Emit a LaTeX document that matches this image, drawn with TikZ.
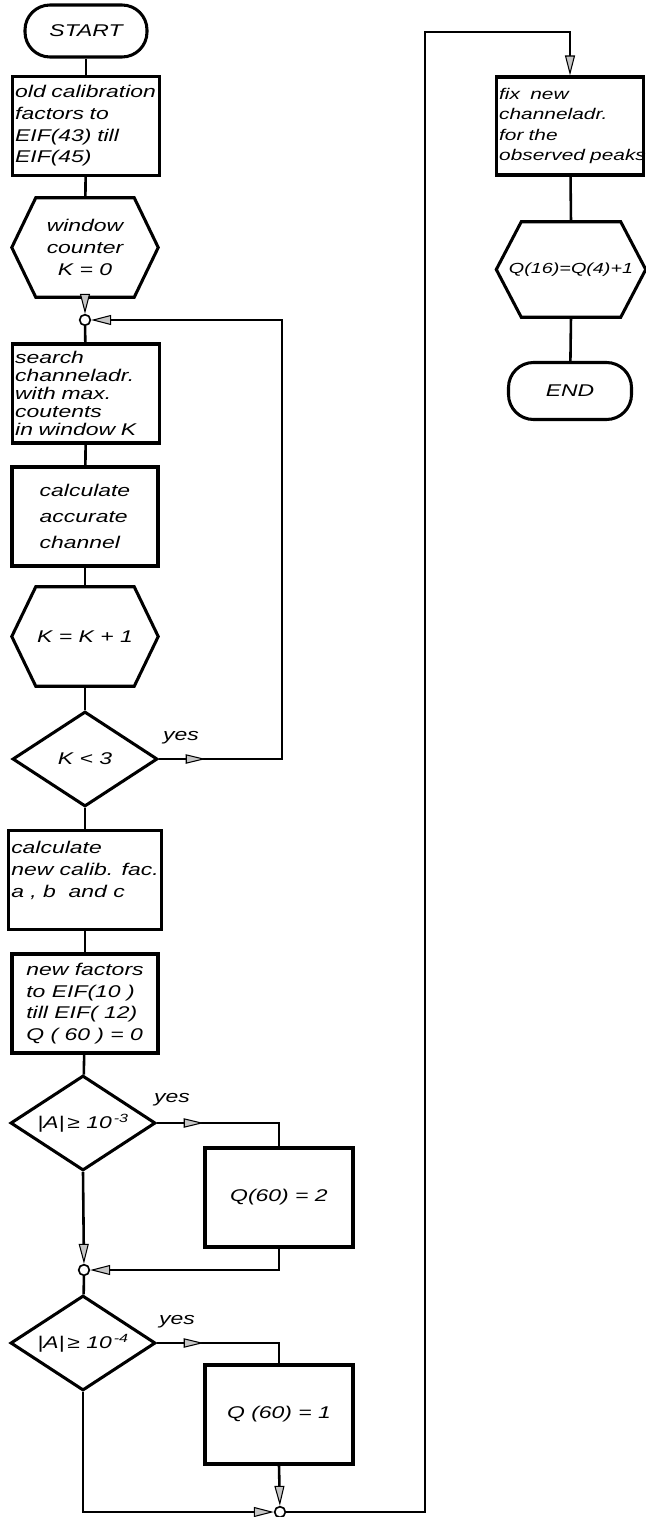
\documentclass[tikz,border=0pt]{standalone}
\usepackage{fontspec}
\setmainfont{Liberation Sans}[FakeStretch=1.35]
\usetikzlibrary{shapes.geometric, arrows.meta, positioning, calc, decorations.markings}

\newcommand{\chartfont}{\fontsize{14.5}{18.5}\selectfont\itshape}
\newcommand{\hexframe}[2]{%
  \draw[line width=2.6pt, line join=miter] ([xshift=#2]#1.north west) -- ([xshift=-#2]#1.north east) -- (#1.east)
    -- ([xshift=-#2]#1.south east) -- ([xshift=#2]#1.south west) -- (#1.west) -- cycle;}

\tikzset{
  box/.style={draw, line width=2.6pt, rectangle, minimum width=4.38cm, minimum height=2.97cm,
    font=\chartfont, align=left, inner sep=2pt},
  term/.style={draw, line width=2.6pt, rectangle, rounded corners=0.75cm, minimum width=3.66cm,
    minimum height=1.56cm, font=\chartfont},
  prep/.style={rectangle, minimum width=4.38cm, minimum height=2.97cm, font=\chartfont, align=center, inner sep=2pt},
  test/.style={draw, line width=2.6pt, diamond, aspect=1.5, minimum width=4.35cm, minimum height=2.85cm,
    inner sep=0pt, font=\chartfont},
  joint/.style={draw, circle, fill=white, line width=1.4pt, minimum size=0.32cm, inner sep=0pt},
  flow/.style={line width=2.2pt},
  tip/.style={-{Triangle[length=0.6cm, width=0.3cm, fill=gray!45, line width=0.9pt]}},
  midtip/.style={postaction={decorate}, decoration={markings,
    mark=at position 1.4cm with {\arrow{Triangle[length=0.6cm, width=0.28cm, fill=gray!45, line width=0.9pt]}}}},
  yeslbl/.style={font=\chartfont}
}

\begin{document}
\begin{tikzpicture}[x=0.03cm, y=-0.03cm]
\useasboundingbox (0,0) rectangle (645,1517);

% left column
\node[term] (start) at (86,31) {START};
\node[box, text width=4.25cm] (oldfac) at (86,126) {\mbox{old calibration}\\factors to\\EIF(43) till\\EIF(45)};
\node[prep] (kzero) at (85,247.5) {window\\counter\\K = 0};
\hexframe{kzero}{0.72cm}
\node[joint] (jloop) at (85,320) {};
\node[box, text width=4.25cm, font=\fontsize{14.5}{15.5}\selectfont\itshape] (search) at (86,393.5)
  {search\\channeladr.\\with max.\\coutents\\in window K};
\node[box, font=\fontsize{14.5}{22}\selectfont\itshape] (accur) at (85,516.5) {calculate\\accurate\\channel};
\node[prep] (kinc) at (85,636.5) {K = K + 1};
\hexframe{kinc}{0.72cm}
\node[test] (kless) at (85,759) {K < 3};
\node[box] (newcal) at (85,880) {calculate\\new calib. fac.\\a , b \ and c\\ \mbox{}};
\node[box] (newfac) at (85,1003.5) {new factors\\to EIF(10 )\\till EIF( 12)\\Q ( 60 ) = 0};
\node[test] (amin3) at (83,1123) {|A|\,≥ 10\textsuperscript{\,-3}};
\node[joint] (jmid) at (84,1270) {};
\node[test] (amin4) at (83,1343) {|A|\,≥ 10\textsuperscript{\,-4}};
\node[joint] (jlow) at (280,1512) {};

% branch boxes
\node[box, minimum width=4.44cm, align=center] (qtwo) at (279,1197.5) {Q(60) = 2};
\node[box, minimum width=4.44cm, align=center] (qone) at (279,1414.5) {Q (60) = 1};

% right column
\node[box, minimum width=4.32cm, minimum height=2.94cm, text width=4.25cm,
  font=\fontsize{13.2}{17.5}\selectfont\itshape] (fixadr) at (570,126)
  {fix \ new\\channeladr.\\for the\\\mbox{observed peaks}};
\node[prep, minimum width=4.47cm, minimum height=2.85cm, font=\fontsize{12.5}{16}\selectfont\itshape] (qsix) at (571,269.5) {Q(16)=Q(4)+1};
\hexframe{qsix}{0.75cm}
\node[term, minimum width=3.69cm, minimum height=1.71cm] (stop) at (570,391) {END};

% labels
\node[yeslbl] (yes1) at (181,738) {yes};
\node[yeslbl] (yes2) at (172,1100) {yes};
\node[yeslbl] (yes3) at (177,1322) {yes};

\coordinate (loopR) at (282,320);
\coordinate (turn) at (425,32);

% connectors
\draw[flow] (start) -- (oldfac);
\draw[flow] (oldfac) -- (kzero);
\draw[flow, tip] (kzero.south) -- (jloop);
\draw[flow] (jloop) -- (search);
\draw[flow] (search) -- (accur);
\draw[flow] (accur) -- (kinc.north);
\draw[flow] (kinc.south) -- (kless);
\draw[flow, midtip, tip] (kless.east) -- (kless.east -| loopR) -- (loopR) -- (jloop);
\draw[flow] (kless) -- (newcal);
\draw[flow] (newcal) -- (newfac);
\draw[flow] (newfac) -- (amin3);
\draw[flow, midtip] (amin3.east) -| (qtwo.north);
\draw[flow, tip] (qtwo.south) |- (jmid);
\draw[flow, tip] (amin3.south) -- (jmid);
\draw[flow] (jmid) -- (amin4);
\draw[flow, midtip] (amin4.east) -| (qone.north);
\draw[flow, tip] (qone.south) -- (jlow);
\draw[flow, tip] (amin4.south) |- (jlow);
\draw[flow, tip] (jlow) -| (turn) -| (fixadr.north);
\draw[flow] (fixadr) -- (qsix.north);
\draw[flow] (qsix.south) -- (stop);
\end{tikzpicture}
\end{document}
